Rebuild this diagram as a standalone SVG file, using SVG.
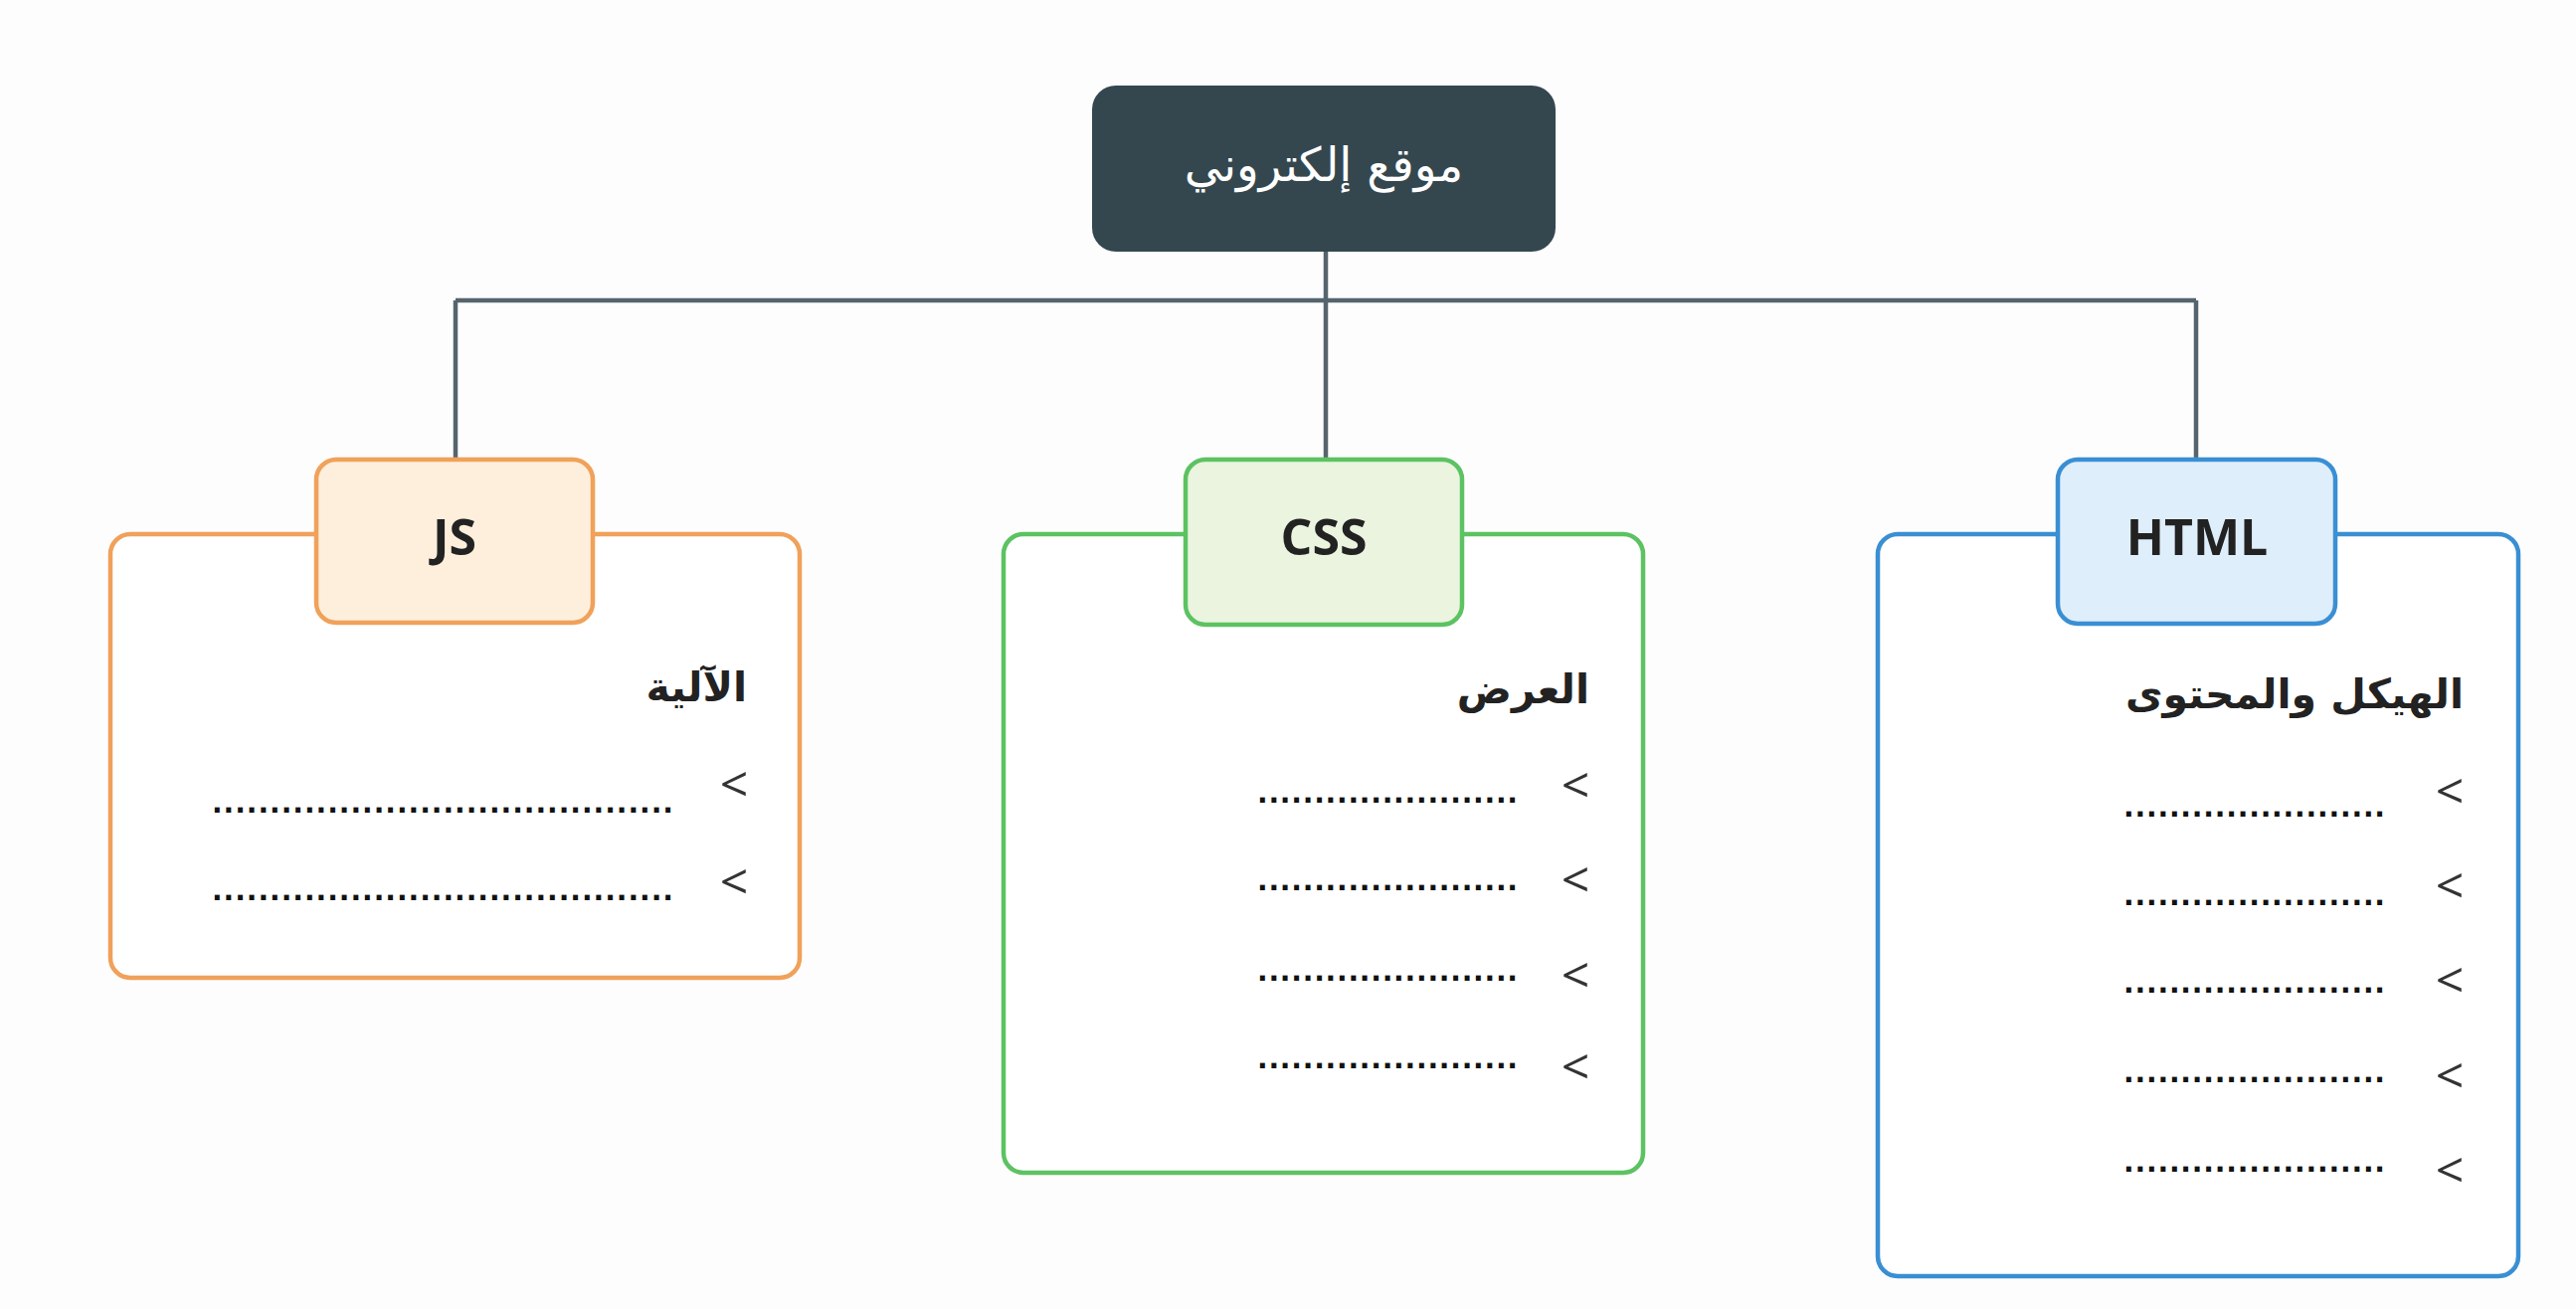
<svg xmlns="http://www.w3.org/2000/svg" width="2590" height="1316" viewBox="0 0 2590 1316">
  <style>
    .wire { fill: none; stroke: #56646d; stroke-width: 4.5; }
    .root-box { fill: #34474f; }
    .root-text { font-family: "DejaVu Sans", sans-serif; font-size: 47px; fill: #ffffff; text-anchor: middle; }
    .tab-text { font-family: "Open Sans", "Noto Sans", sans-serif; font-weight: 700; font-size: 50px; fill: #222222; text-anchor: middle; }
    .head { font-family: "DejaVu Sans", sans-serif; font-weight: 700; font-size: 41px; fill: #222222; text-anchor: end; }
    .chev { font-family: "Open Sans", "Noto Sans", sans-serif; font-size: 50px; fill: #333333; text-anchor: middle; }
    .dots { font-family: "DejaVu Sans", sans-serif; font-weight: 700; font-size: 28px; fill: #111111; }
    .js-frame { fill: #ffffff; stroke: #f0a15a; stroke-width: 4.5; }
    .js-tab { fill: #fdefdb; stroke: #f0a15a; stroke-width: 4.5; }
    .css-frame { fill: #ffffff; stroke: #5cc262; stroke-width: 4.5; }
    .css-tab { fill: #eaf4df; stroke: #5cc262; stroke-width: 4.5; }
    .html-frame { fill: #ffffff; stroke: #3a8fd3; stroke-width: 4.5; }
    .html-tab { fill: #dfeefb; stroke: #3a8fd3; stroke-width: 4.5; }
  </style>

  <rect width="2590" height="1316" fill="#fdfdfd"/>

  <!-- tree connectors -->
  <g id="connectors">
    <path class="wire" d="M1333 253 V462"/>
    <path class="wire" d="M458 302 H2208"/>
    <path class="wire" d="M458 302 V462"/>
    <path class="wire" d="M2208 302 V462"/>
  </g>

  <!-- root -->
  <g id="root">
    <rect class="root-box" x="1098" y="86" width="466" height="167" rx="24"/>
    <text class="root-text" x="1331" y="182">موقع إلكتروني</text>
  </g>

  <!-- JS card -->
  <g id="js">
    <rect class="js-frame" x="111" y="537" width="693" height="446" rx="20"/>
    <rect class="js-tab" x="318" y="462" width="278" height="164" rx="20"/>
    <text class="tab-text" x="457" y="558">JS</text>
    <text class="head" x="751" y="705">الآلية</text>
    <text class="chev" x="738" y="806">&lt;</text>
    <text class="dots" x="213" y="817" textLength="464" lengthAdjust="spacing">........................................</text>
    <text class="chev" x="738" y="904">&lt;</text>
    <text class="dots" x="213" y="905" textLength="464" lengthAdjust="spacing">........................................</text>
  </g>

  <!-- CSS card -->
  <g id="css">
    <rect class="css-frame" x="1009" y="537" width="643" height="642" rx="20"/>
    <rect class="css-tab" x="1192" y="462" width="278" height="166" rx="20"/>
    <text class="tab-text" x="1331" y="558">CSS</text>
    <text class="head" x="1598" y="707">العرض</text>
    <text class="chev" x="1584" y="807">&lt;</text>
    <text class="dots" x="1264" y="807" textLength="262" lengthAdjust="spacing">.......................</text>
    <text class="chev" x="1584" y="902">&lt;</text>
    <text class="dots" x="1264" y="895" textLength="262" lengthAdjust="spacing">.......................</text>
    <text class="chev" x="1584" y="998">&lt;</text>
    <text class="dots" x="1264" y="986" textLength="262" lengthAdjust="spacing">.......................</text>
    <text class="chev" x="1584" y="1090">&lt;</text>
    <text class="dots" x="1264" y="1074" textLength="262" lengthAdjust="spacing">.......................</text>
  </g>

  <!-- HTML card -->
  <g id="html">
    <rect class="html-frame" x="1888" y="537" width="644" height="746" rx="20"/>
    <rect class="html-tab" x="2069" y="462" width="279" height="165" rx="20"/>
    <text class="tab-text" x="2209" y="558">HTML</text>
    <text class="head" x="2477" y="712">الهيكل والمحتوى</text>
    <text class="chev" x="2463" y="813">&lt;</text>
    <text class="dots" x="2135" y="821" textLength="263" lengthAdjust="spacing">.......................</text>
    <text class="chev" x="2463" y="908">&lt;</text>
    <text class="dots" x="2135" y="910" textLength="263" lengthAdjust="spacing">.......................</text>
    <text class="chev" x="2463" y="1003">&lt;</text>
    <text class="dots" x="2135" y="998" textLength="263" lengthAdjust="spacing">.......................</text>
    <text class="chev" x="2463" y="1099">&lt;</text>
    <text class="dots" x="2135" y="1088" textLength="263" lengthAdjust="spacing">.......................</text>
    <text class="chev" x="2463" y="1194">&lt;</text>
    <text class="dots" x="2135" y="1178" textLength="263" lengthAdjust="spacing">.......................</text>
  </g>
</svg>
